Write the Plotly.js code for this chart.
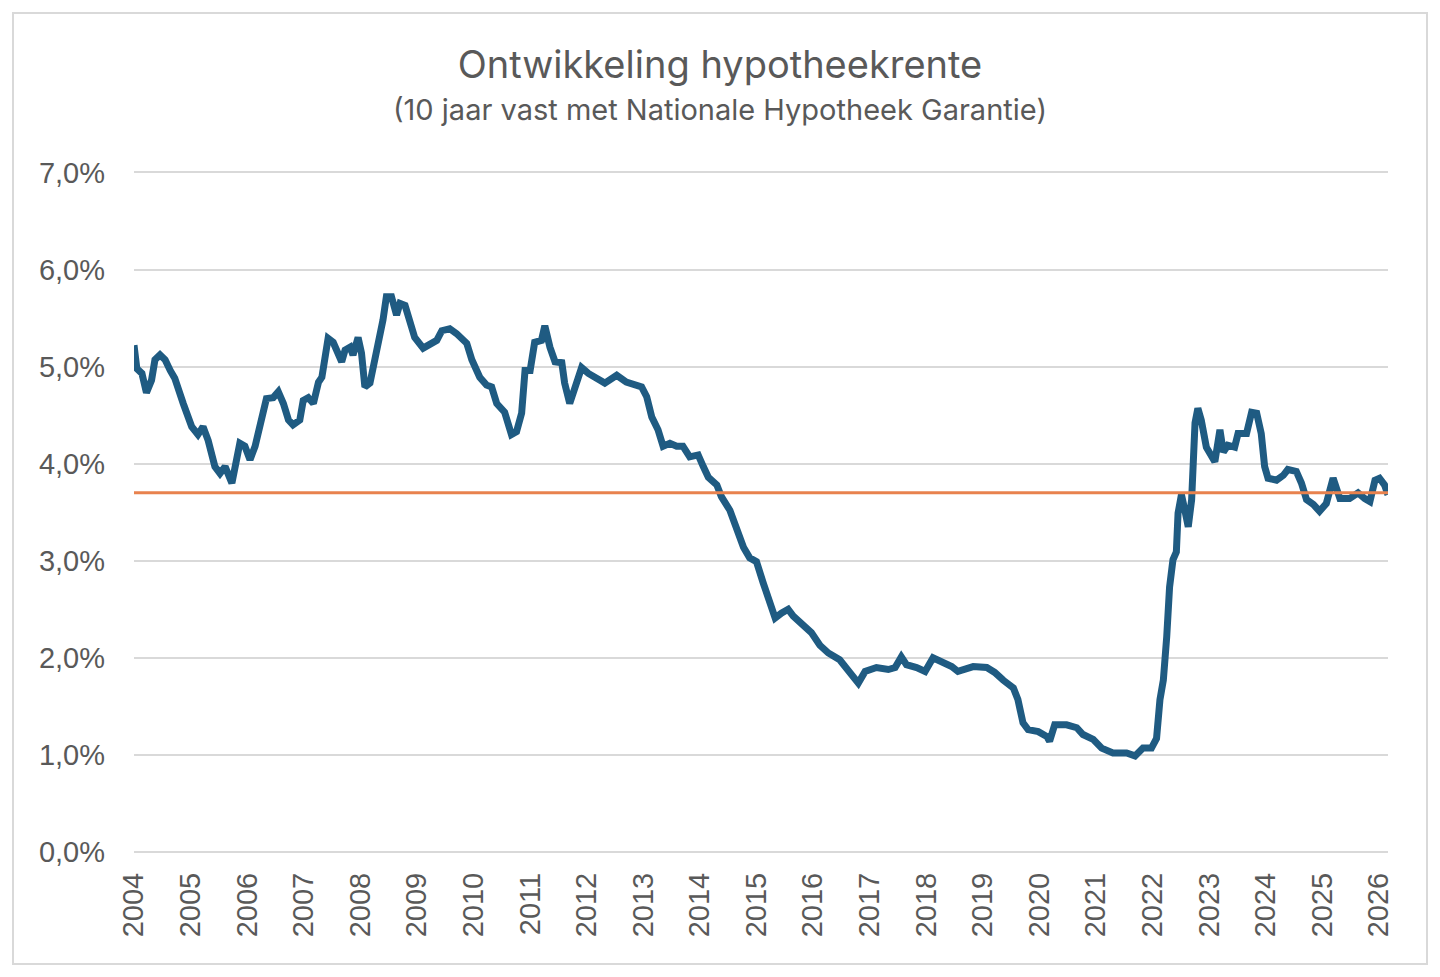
<!DOCTYPE html>
<html>
<head>
<meta charset="utf-8">
<script src="https://cdn.plot.ly/plotly-3.0.1.min.js"></script>
<style>
  html, body { margin: 0; padding: 0; background: #ffffff; }
  #wrap { position: relative; width: 1440px; height: 977px; }
  #chart { width: 1440px; height: 977px; }
  #frame { position: absolute; left: 12px; top: 12px; width: 1412px; height: 949px;
           border: 2px solid #d9d9d9; pointer-events: none; }
</style>
</head>
<body>
<div id="wrap">
  <div id="chart"></div>
  <div id="frame"></div>
</div>
<script>
// Decimal-year positions of the mortgage-rate series
const years = [
  2004.00, 2004.05, 2004.14, 2004.22, 2004.31, 2004.37, 2004.46, 2004.55, 2004.64, 2004.72, 2004.87,
  2005.02, 2005.13, 2005.22, 2005.31, 2005.43, 2005.52, 2005.61, 2005.73, 2005.81, 2005.87, 2005.96,
  2006.05, 2006.14, 2006.23, 2006.34, 2006.46, 2006.55, 2006.64, 2006.73, 2006.81, 2006.93, 2006.99,
  2007.08, 2007.17, 2007.26, 2007.32, 2007.37, 2007.43, 2007.52, 2007.61, 2007.67, 2007.73, 2007.82, 2007.87, 2007.96,
  2008.02, 2008.08, 2008.17, 2008.23, 2008.32, 2008.40, 2008.46, 2008.55, 2008.64, 2008.70, 2008.79, 2008.85, 2008.96,
  2009.11, 2009.26, 2009.35, 2009.44, 2009.58, 2009.70, 2009.88, 2009.97,
  2010.11, 2010.23, 2010.32, 2010.41, 2010.55, 2010.67, 2010.76, 2010.85, 2010.91,
  2011.00, 2011.08, 2011.20, 2011.26, 2011.35, 2011.44, 2011.56, 2011.61, 2011.70, 2011.79, 2011.91,
  2012.03, 2012.18, 2012.32, 2012.53, 2012.70, 2012.97,
  2013.06, 2013.15, 2013.26, 2013.35, 2013.47, 2013.59, 2013.70, 2013.82, 2013.97,
  2014.06, 2014.15, 2014.30, 2014.38, 2014.53, 2014.65, 2014.77, 2014.88,
  2015.00, 2015.12, 2015.24, 2015.33, 2015.44, 2015.56, 2015.65, 2015.80, 2015.97,
  2016.12, 2016.27, 2016.47, 2016.62, 2016.80, 2016.92,
  2017.12, 2017.33, 2017.45, 2017.56, 2017.65, 2017.83, 2017.98,
  2018.12, 2018.30, 2018.45, 2018.56, 2018.71, 2018.83,
  2019.07, 2019.21, 2019.36, 2019.54, 2019.62, 2019.71, 2019.80, 2019.98,
  2020.13, 2020.18, 2020.27, 2020.48, 2020.66, 2020.77, 2020.95,
  2021.10, 2021.30, 2021.54, 2021.69, 2021.83, 2021.98,
  2022.07, 2022.13, 2022.19, 2022.25, 2022.30, 2022.36, 2022.42, 2022.45, 2022.51, 2022.57, 2022.63, 2022.69, 2022.75, 2022.80, 2022.86, 2022.95,
  2023.01, 2023.10, 2023.19, 2023.25, 2023.33, 2023.45, 2023.51, 2023.66, 2023.75, 2023.84, 2023.92, 2023.98,
  2024.04, 2024.19, 2024.31, 2024.39, 2024.54, 2024.63, 2024.72, 2024.84, 2024.95,
  2025.07, 2025.19, 2025.25, 2025.31, 2025.48, 2025.63, 2025.75, 2025.84, 2025.93,
  2026.01, 2026.10, 2026.16
];

// Rate in percent (10 jaar vast met NHG)
const rates = [
  5.22, 4.98, 4.93, 4.73, 4.86, 5.07, 5.12, 5.07, 4.96, 4.88, 4.62,
  4.38, 4.30, 4.38, 4.24, 3.97, 3.90, 3.97, 3.80, 4.04, 4.21, 4.18,
  4.04, 4.18, 4.42, 4.67, 4.68, 4.74, 4.62, 4.45, 4.40, 4.45, 4.65,
  4.68, 4.62, 4.84, 4.89, 5.10, 5.29, 5.25, 5.15, 5.05, 5.17, 5.20, 5.12, 5.30,
  5.14, 4.79, 4.83, 4.99, 5.20, 5.48, 5.72, 5.72, 5.53, 5.65, 5.63, 5.51, 5.30,
  5.19, 5.25, 5.27, 5.37, 5.39, 5.34, 5.24, 5.07,
  4.89, 4.81, 4.79, 4.62, 4.53, 4.30, 4.33, 4.52, 4.96,
  4.96, 5.25, 5.27, 5.42, 5.20, 5.05, 5.04, 4.83, 4.62, 4.80, 4.99,
  4.93, 4.88, 4.83, 4.91, 4.84, 4.79,
  4.69, 4.48, 4.35, 4.18, 4.21, 4.18, 4.18, 4.07, 4.09,
  3.97, 3.86, 3.78, 3.66, 3.52, 3.32, 3.14, 3.03,
  2.99, 2.77, 2.57, 2.41, 2.46, 2.50, 2.43, 2.34, 2.26,
  2.13, 2.05, 1.98, 1.88, 1.74, 1.86,
  1.90, 1.88, 1.90, 2.01, 1.93, 1.90, 1.86,
  2.00, 1.96, 1.91, 1.86, 1.88, 1.91,
  1.90, 1.85, 1.77, 1.69, 1.57, 1.33, 1.26, 1.24,
  1.19, 1.14, 1.31, 1.31, 1.28, 1.21, 1.16,
  1.07, 1.02, 1.02, 0.99, 1.07, 1.07,
  1.17, 1.57, 1.77, 2.22, 2.73, 3.01, 3.09, 3.49, 3.68, 3.52, 3.35, 3.63, 4.42, 4.57, 4.45, 4.17,
  4.12, 4.02, 4.35, 4.12, 4.19, 4.17, 4.31, 4.31, 4.53, 4.52, 4.31, 3.97,
  3.85, 3.83, 3.88, 3.94, 3.92, 3.80, 3.63, 3.58, 3.51,
  3.59, 3.85, 3.73, 3.64, 3.64, 3.70, 3.64, 3.61, 3.83,
  3.85, 3.78, 3.68
];

// Reference level (horizontal orange line)
const referenceRate = 3.7;
const referenceSpan = [2004.00, 2026.16];

// Axis ticks
const xTickVals = [2004, 2005, 2006, 2007, 2008, 2009, 2010, 2011, 2012, 2013, 2014, 2015,
                   2016, 2017, 2018, 2019, 2020, 2021, 2022, 2023, 2024, 2025, 2026];
const xTickText = xTickVals.map(String);
const yTickVals = [0, 1, 2, 3, 4, 5, 6, 7];
const yTickText = ['0,0%', '1,0%', '2,0%', '3,0%', '4,0%', '5,0%', '6,0%', '7,0%'];

const titleText = 'Ontwikkeling hypotheekrente';
const subtitleText = '(10 jaar vast met Nationale Hypotheek Garantie)';

const grey = '#595959';

// plot-area geometry (pixels) used to place the subtitle
const plotLeft = 134, plotRight = 1388, plotTop = 170, plotBottom = 852.5;

const traces = [
  {
    x: years, y: rates, type: 'scatter', mode: 'lines',
    line: { color: '#1f5b82', width: 7, shape: 'linear' },
    hoverinfo: 'skip', showlegend: false
  },
  {
    x: referenceSpan, y: [referenceRate, referenceRate], type: 'scatter', mode: 'lines',
    line: { color: '#e8824e', width: 3 },
    hoverinfo: 'skip', showlegend: false
  }
];

const layout = {
  width: 1440, height: 977,
  paper_bgcolor: '#ffffff', plot_bgcolor: '#ffffff',
  margin: { l: plotLeft, r: 1440 - plotRight, t: plotTop, b: 977 - plotBottom },
  showlegend: false,
  title: {
    text: titleText,
    font: { family: 'Inter, "Open Sans", sans-serif', size: 38, color: grey },
    x: 0.5, xanchor: 'center', xref: 'container',
    y: 1 - 65 / 977, yanchor: 'middle', yref: 'container'
  },
  annotations: [{
    text: subtitleText, showarrow: false,
    xref: 'paper', yref: 'paper',
    x: (720 - plotLeft) / (plotRight - plotLeft), xanchor: 'center',
    y: 1 + (plotTop - 109) / (plotBottom - plotTop), yanchor: 'middle',
    font: { family: 'Inter, "Open Sans", sans-serif', size: 29, color: grey }
  }],
  xaxis: {
    type: 'linear',
    range: [2004, 2026.16],
    tickmode: 'array', tickvals: xTickVals, ticktext: xTickText,
    tickangle: -90,
    showgrid: false, zeroline: false, showline: false,
    ticks: '', ticklabelstandoff: 14,
    tickfont: { family: '"Liberation Sans", Arial, sans-serif', size: 29, color: grey },
    fixedrange: true
  },
  yaxis: {
    range: [0, 7.025],
    tickmode: 'array', tickvals: yTickVals, ticktext: yTickText,
    showgrid: true, gridcolor: '#d9d9d9', gridwidth: 2,
    zeroline: true, zerolinecolor: '#d9d9d9', zerolinewidth: 2,
    showline: false, ticks: '', ticklabelstandoff: 28,
    tickfont: { family: '"Liberation Sans", Arial, sans-serif', size: 29, color: grey },
    fixedrange: true
  }
};

Plotly.newPlot('chart', traces, layout, { displayModeBar: false, staticPlot: true });
</script>
</body>
</html>
